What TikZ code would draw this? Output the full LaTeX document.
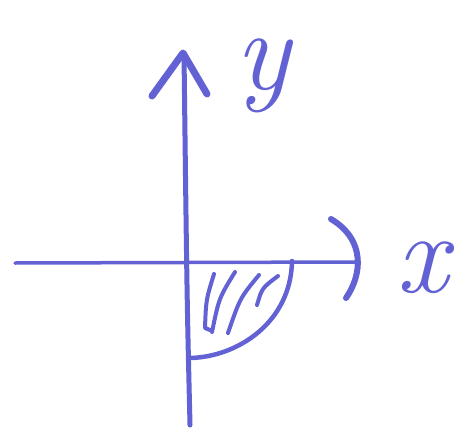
\documentclass[tikz,border=0pt]{standalone}
\begin{document}
\begin{tikzpicture}[x=1pt,y=-1pt,
  pen/.style={draw=ink, line width=5pt, line cap=round, line join=round},
  thinpen/.style={draw=ink, line width=4pt, line cap=round, line join=round},
  lbl/.style={text=ink, inner sep=0pt, font=\fontsize{115}{115}\selectfont\itshape}]
\definecolor{ink}{RGB}{98,98,212}
\useasboundingbox (0,0) rectangle (476,444);
\fill[white] (0,0) rectangle (476,444);
% y axis
\draw[pen] (190,425) .. controls (187,300) .. (184,54);
\draw[pen, line width=7pt] (152,96) -- (183,53) -- (207,94);
% x axis
\draw[thinpen, line width=3.5pt] (15,263) -- (355,262);
\draw[pen, line width=6pt] (331,219) .. controls (366,240) and (362,275) .. (346,298);
% region boundary
\draw[pen, line width=4.5pt] (292,261) .. controls (291,322) and (238,357) .. (190,358);
% hatching
\draw[thinpen] (214,274) .. controls (206,300) .. (205,328) -- (210,330);
\draw[thinpen] (235,272) .. controls (219,298) .. (212,332);
\draw[thinpen] (259,275) .. controls (240,298) .. (228,333);
\draw[thinpen] (278,276) .. controls (262,288) .. (257,305);
% labels
\node[lbl] (ylab) at (263,76) {y};
\node[lbl] (xlab) at (422,268) {x};
\end{tikzpicture}
\end{document}
